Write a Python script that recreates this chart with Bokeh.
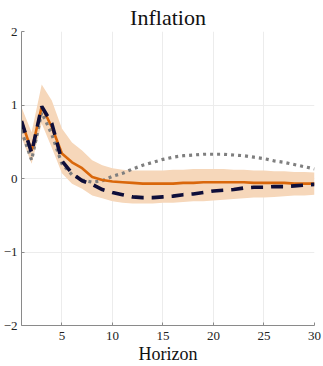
from bokeh.plotting import figure
from bokeh.models import Range1d, FixedTicker
from bokeh.embed import file_html
from bokeh.resources import INLINE

# Impulse responses of inflation over a 30-period horizon
horizon = list(range(1, 31))

median = [0.78, 0.38, 0.98, 0.70, 0.34, 0.22, 0.14, 0.02, -0.02, -0.04,
          -0.05, -0.06, -0.07, -0.07, -0.07, -0.07, -0.06, -0.06, -0.05, -0.05,
          -0.05, -0.05, -0.05, -0.06, -0.06, -0.06, -0.06, -0.07, -0.07, -0.07]
band_upper = [0.97, 0.63, 1.28, 1.06, 0.68, 0.49, 0.38, 0.25, 0.18, 0.14,
              0.12, 0.11, 0.11, 0.11, 0.11, 0.12, 0.12, 0.13, 0.13, 0.13,
              0.13, 0.12, 0.12, 0.11, 0.11, 0.10, 0.10, 0.09, 0.09, 0.08]
band_lower = [0.56, 0.20, 0.75, 0.42, 0.07, -0.07, -0.14, -0.23, -0.27, -0.31,
              -0.33, -0.34, -0.34, -0.34, -0.33, -0.33, -0.32, -0.31, -0.31, -0.30,
              -0.29, -0.28, -0.27, -0.26, -0.26, -0.25, -0.24, -0.23, -0.23, -0.22]
alt_dashed = [0.78, 0.35, 0.98, 0.75, 0.24, 0.07, -0.03, -0.08, -0.15, -0.19,
              -0.22, -0.25, -0.26, -0.26, -0.25, -0.24, -0.22, -0.21, -0.19, -0.17,
              -0.16, -0.15, -0.13, -0.12, -0.12, -0.11, -0.11, -0.10, -0.09, -0.08]
alt_dotted = [0.65, 0.25, 0.90, 0.60, 0.20, 0.05, -0.02, -0.05, -0.03, 0.03,
              0.07, 0.13, 0.18, 0.22, 0.26, 0.29, 0.31, 0.32, 0.33, 0.33,
              0.33, 0.32, 0.31, 0.29, 0.27, 0.24, 0.22, 0.19, 0.16, 0.13]

x_ticks = [5, 10, 15, 20, 25, 30]
y_ticks = [-2, -1, 0, 1, 2]

serif = "Liberation Serif"

p = figure(width=323, height=366, output_backend="svg", toolbar_location=None,
           x_range=Range1d(1, 30), y_range=Range1d(-2, 2),
           title="Inflation", min_border_left=8, min_border_right=9,
           min_border_top=4, min_border_bottom=1)

p.title.text_font = serif
p.title.text_font_style = "normal"
p.title.text_font_size = "22px"
p.title.align = "center"
p.title.text_color = "#111111"
p.title.standoff = 4

p.outline_line_color = None
p.background_fill_color = "white"

p.xaxis.ticker = FixedTicker(ticks=x_ticks)
p.yaxis.ticker = FixedTicker(ticks=y_ticks)
p.xaxis.axis_label = "Horizon"
for ax in (p.xaxis, p.yaxis):
    ax.axis_line_color = "#8a8a8a"
    ax.major_tick_line_color = "#8a8a8a"
    ax.major_tick_out = 0
    ax.major_tick_in = 3
    ax.minor_tick_line_color = None
    ax.major_label_text_font = serif
    ax.major_label_text_font_size = "13px"
    ax.major_label_text_color = "#222222"
    ax.axis_label_text_font = serif
    ax.axis_label_text_font_style = "normal"
    ax.axis_label_text_font_size = "18px"
    ax.axis_label_text_color = "#111111"
p.yaxis.major_label_standoff = 4
p.xaxis.major_label_standoff = 6
p.xaxis.axis_label_standoff = 1

p.xgrid.grid_line_color = "#ececec"
p.ygrid.grid_line_color = "#ececec"

p.varea(x=horizon, y1=band_lower, y2=band_upper, fill_color="#f6d7ba", fill_alpha=1.0)
p.line(horizon, alt_dotted, line_color="#7f7f7f", line_width=3.2, line_dash="3 4")
p.line(horizon, median, line_color="#d9670b", line_width=2.6)
p.line(horizon, alt_dashed, line_color="#0e0e3a", line_width=3.6, line_dash="12 8")

open("out.html", "w").write(file_html(p, INLINE))
